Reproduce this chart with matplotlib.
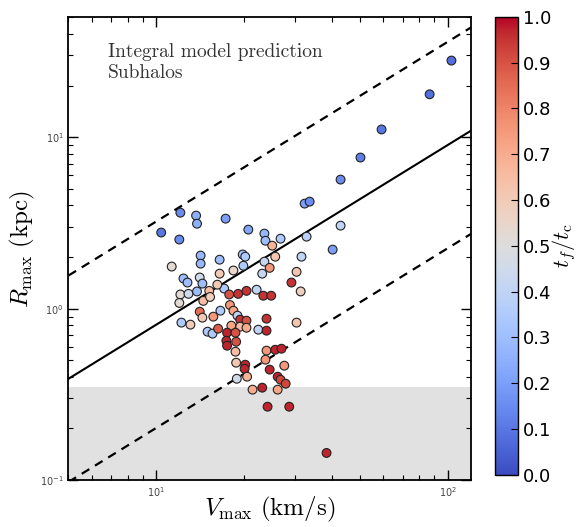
import numpy as np
import matplotlib
matplotlib.use('Agg')
import matplotlib.pyplot as plt

# subhalo data: Vmax (km/s), Rmax (kpc), tf/tc
vmax = [103, 86.7, 59.3, 50.2, 42.9, 32.3, 33.6, 42.9, 32.8, 40.3, 31.5,
        10.4, 12.1, 12.0, 13.7, 13.8, 17.3, 20.7, 23.5, 23.7, 26.7,
        25.0, 25.6, 23.5, 24.5, 23.1, 30.3, 29.1, 31.3, 30.3,
        11.3, 14.2, 14.2, 16.5, 16.5, 19.8, 20.2, 19.9, 18.4,
        12.4, 12.8, 14.1, 14.4, 17.1, 12.1, 12.0, 12.9, 13.8, 15.2, 14.5, 15.3,
        17.8, 19.1, 20.4, 22.1, 23.3, 24.8, 17.9, 18.4, 16.6, 14.1, 14.4, 15.7,
        19.0, 19.4, 20.4, 19.4, 18.1, 20.4, 23.9, 12.2, 13.1, 15.0, 15.6, 16.3,
        17.5, 18.7, 17.4, 18.8, 22.4, 23.9, 17.5, 18.7, 23.9, 25.6, 26.9,
        27.5, 23.7, 18.8, 20.2, 20.1, 20.5, 18.9, 24.5, 26.1, 26.7, 27.8,
        21.4, 23.1, 26.1, 24.1, 28.6, 38.4, 16.2]
rmax = [28.0, 17.8, 11.1, 7.61, 5.66, 4.10, 4.21, 3.05, 2.63, 2.21, 2.01,
        2.78, 3.63, 2.53, 3.49, 3.13, 3.35, 2.89, 2.74, 2.49, 2.56,
        2.33, 2.01, 1.88, 1.73, 1.60, 1.64, 1.42, 1.26, 0.829,
        1.76, 2.04, 1.83, 1.93, 1.60, 2.07, 2.01, 1.78, 1.67,
        1.50, 1.42, 1.52, 1.40, 1.31, 1.21, 1.08, 1.22, 1.26, 1.27, 1.11, 1.17,
        1.21, 1.22, 1.27, 1.29, 1.19, 1.19, 1.05, 0.973, 0.973, 0.960, 0.886, 0.898,
        0.910, 0.863, 0.851, 0.785, 0.796, 0.774, 0.874, 0.829, 0.807, 0.734, 0.715, 0.764,
        0.724, 0.724, 0.650, 0.641, 0.754, 0.744, 0.608, 0.561, 0.569, 0.576, 0.584,
        0.465, 0.504, 0.484, 0.471, 0.446, 0.401, 0.390, 0.441, 0.401, 0.385, 0.365,
        0.337, 0.346, 0.337, 0.268, 0.268, 0.144, 1.38]
tf_tc = [0.08, 0.08, 0.10, 0.12, 0.15, 0.20, 0.15, 0.40, 0.38, 0.20, 0.40,
         0.10, 0.15, 0.15, 0.25, 0.25, 0.20, 0.22, 0.28, 0.30, 0.35,
         0.68, 0.62, 0.42, 0.75, 0.42, 0.62, 0.95, 0.58, 0.62,
         0.52, 0.28, 0.28, 0.30, 0.60, 0.32, 0.35, 0.35, 0.55,
         0.30, 0.30, 0.45, 0.30, 0.35, 0.52, 0.52, 0.45, 0.30, 0.65, 0.65, 0.58,
         0.90, 0.95, 0.95, 0.40, 0.95, 0.95, 0.75, 0.72, 0.35, 0.85, 0.60, 0.75,
         0.40, 0.95, 0.90, 0.65, 0.72, 0.70, 0.95, 0.35, 0.60, 0.35, 0.35, 0.88,
         0.97, 0.90, 0.97, 0.90, 0.40, 0.97, 0.97, 0.65, 0.75, 0.97, 0.97,
         0.75, 0.75, 0.62, 0.97, 0.97, 0.68, 0.45, 0.97, 0.97, 0.92, 0.92,
         0.70, 0.97, 0.72, 0.97, 0.97, 0.97, 0.60]

# model relation (solid) and its scatter band (dashed)
line_v = [5.0, 120.0]
line_r = [0.39, 10.9]
scatter_factor = 4.0
r_resolution = 0.35

fig = plt.figure(figsize=(5.78, 5.27), dpi=100)
ax = fig.add_axes([0.1185, 0.089, 0.696, 0.878])
cax = fig.add_axes([0.856, 0.099, 0.040, 0.869])

ax.axhspan(0.05, r_resolution, color='#e1e1e1', zorder=0, lw=0)

lv = np.array(line_v)
lr = np.array(line_r)
ax.plot(lv, lr, color='k', lw=1.5, zorder=2)
ax.plot(lv, lr * scatter_factor, color='k', lw=1.6, ls=(0, (4, 3)), zorder=2)
ax.plot(lv, lr / scatter_factor, color='k', lw=1.6, ls=(0, (4, 3)), zorder=2)

sc = ax.scatter(vmax, rmax, c=tf_tc, cmap='coolwarm', vmin=0, vmax=1,
                s=40, edgecolors='#222222', linewidths=0.8, zorder=3)

ax.set_xscale('log')
ax.set_yscale('log')
ax.set_xlim(5, 120)
ax.set_ylim(0.1, 50)

ax.tick_params(which='both', direction='in', top=True, right=True,
               labelsize=7, labelcolor='#444444')
ax.tick_params(which='major', length=7, width=1)
ax.tick_params(which='minor', length=3.5, width=0.8)
for sp in ax.spines.values():
    sp.set_linewidth(1.3)

ax.set_xlabel(r'$V_{\rm max}\ ({\rm km/s})$', fontsize=18,
              math_fontfamily='cm', labelpad=-3)
ax.set_ylabel(r'$R_{\rm max}\ ({\rm kpc})$', fontsize=18,
              math_fontfamily='cm', labelpad=2)

ax.text(0.098, 0.945, 'Integral model prediction\nSubhalos',
        transform=ax.transAxes, ha='left', va='top', fontsize=14,
        family='cmr10', color='#333333', linespacing=1.25)

cb = fig.colorbar(sc, cax=cax, ticks=np.arange(0, 1.01, 0.1))
cb.ax.tick_params(direction='in', labelsize=13, length=5)
cb.outline.set_linewidth(1.0)
cb.set_label(r'$t_f/t_{\rm c}$', fontsize=16, math_fontfamily='cm', labelpad=-1)

fig.savefig('out.png', dpi=100)
